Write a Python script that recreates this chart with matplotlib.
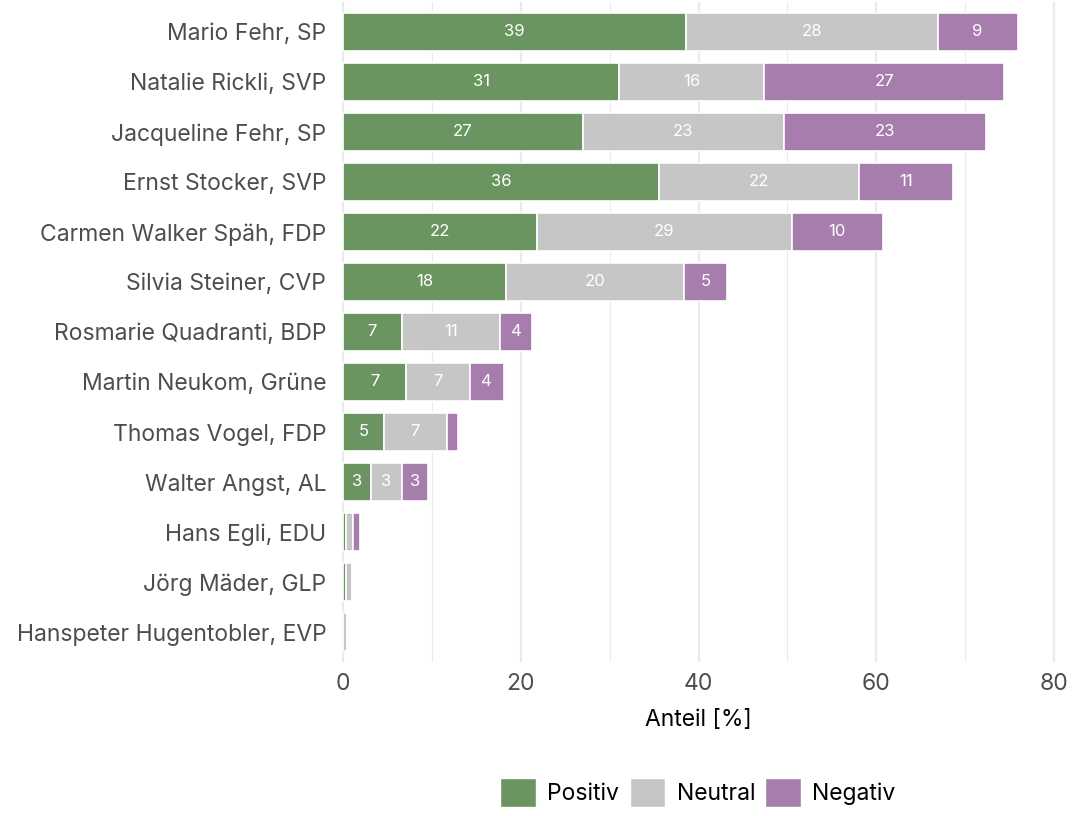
import matplotlib.pyplot as plt
import numpy as np
from matplotlib.patches import Patch

plt.rcParams["font.family"] = ["Inter", "DejaVu Sans"]

# data (share in %)
names = [
    "Mario Fehr, SP",
    "Natalie Rickli, SVP",
    "Jacqueline Fehr, SP",
    "Ernst Stocker, SVP",
    "Carmen Walker Späh, FDP",
    "Silvia Steiner, CVP",
    "Rosmarie Quadranti, BDP",
    "Martin Neukom, Grüne",
    "Thomas Vogel, FDP",
    "Walter Angst, AL",
    "Hans Egli, EDU",
    "Jörg Mäder, GLP",
    "Hanspeter Hugentobler, EVP",
]
positiv = [38.6, 31.1, 27.0, 35.6, 21.8, 18.4, 6.6, 7.1, 4.6, 3.2, 0.3, 0.3, 0.0]
neutral = [28.3, 16.3, 22.6, 22.4, 28.7, 20.0, 11.1, 7.2, 7.1, 3.4, 0.8, 0.7, 0.5]
negativ = [9.0, 27.0, 22.7, 10.6, 10.2, 4.8, 3.6, 3.8, 1.2, 3.0, 0.8, 0.0, 0.0]

series = [("Positiv", positiv, "#6b9560"),
          ("Neutral", neutral, "#c6c6c6"),
          ("Negativ", negativ, "#a77dae")]

fig = plt.figure(figsize=(10.72, 8.16), dpi=100)
ax = fig.add_axes([334 / 1072, 154 / 816, 729 / 1072, 660 / 816])

y = np.arange(len(names))
left = np.zeros(len(names))
for label, vals, color in series:
    vals = np.array(vals)
    ax.barh(y, vals, left=left, height=0.75, color=color,
            edgecolor="white", linewidth=1.2, label=label, zorder=2)
    for yi, l, v in zip(y, left, vals):
        if v >= 2:
            ax.text(l + v / 2, yi, f"{v:.0f}", ha="center", va="center",
                    color="white", fontsize=12, zorder=3)
    left += vals

ax.set_xlim(-1, 81)
ax.set_ylim(len(names) - 0.4, -0.6)
ax.set_yticks(y)
ax.set_yticklabels(names)
ax.set_xticks([0, 20, 40, 60, 80])
ax.set_xticks([10, 30, 50, 70], minor=True)
ax.grid(axis="x", which="major", color="#ebebeb", linewidth=1.6, zorder=0)
ax.grid(axis="x", which="minor", color="#ebebeb", linewidth=0.8, zorder=0)
ax.set_axisbelow(True)
for s in ax.spines.values():
    s.set_visible(False)
ax.tick_params(axis="both", which="both", length=0, labelsize=16.5,
               labelcolor="#4d4d4d")
ax.tick_params(axis="y", pad=5.5)
ax.tick_params(axis="x", pad=8)
ax.set_xlabel("Anteil [%]", fontsize=16.5, labelpad=10)

handles = [Patch(facecolor=c, edgecolor="white", label=l) for l, _, c in series]
fig.legend(handles=handles, loc="lower center", bbox_to_anchor=(698 / 1072, -0.014),
           ncol=3, frameon=False, fontsize=16.5, handlelength=1.55,
           handleheight=1.55, handletextpad=0.5, columnspacing=0.45)

fig.savefig("out.png", dpi=100)
